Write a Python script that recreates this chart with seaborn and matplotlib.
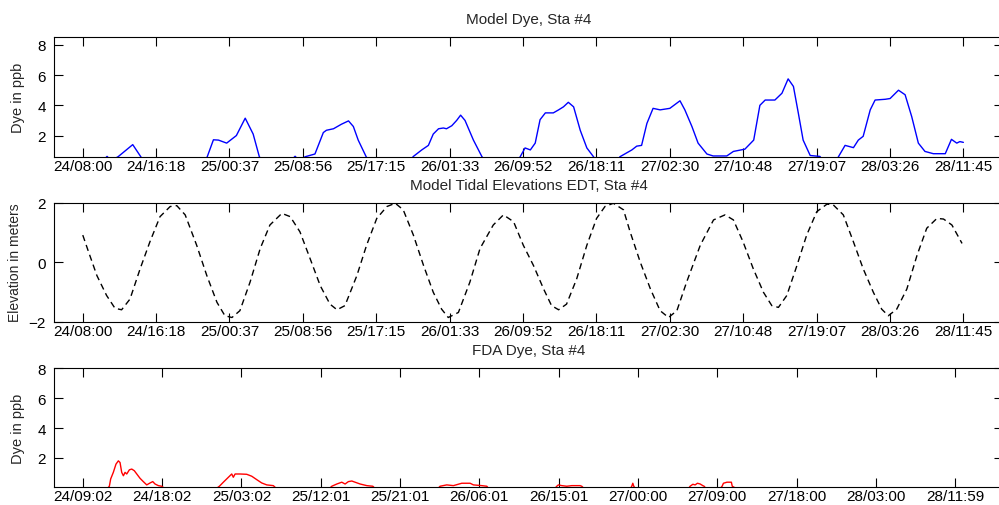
"""
Model dye, model tidal elevations and FDA dye at station #4
Three stacked time series, MATLAB-style axes, drawn with seaborn
"""
#******************************************************************************

import numpy as np
import matplotlib
matplotlib.use("Agg")
import matplotlib.pyplot as plt
import seaborn as sns
#******************************************************************************

#****************************************
# Data (hours counted from day 24, 00:00)
dye_hours = [8.0, 10.3, 10.75, 11.2, 12.0, 13.66, 14.57, 15.0,
             21.7, 22.1, 22.8, 23.37, 24.3, 25.4, 26.4, 27.3, 28.0, 28.6,
             31.6, 32.05, 32.5, 33.2, 34.3, 35.25, 35.6, 36.4, 37.3, 38.1,
             38.65, 39.2, 40.1, 40.6,
             45.0, 45.45, 46.4, 47.15, 47.7, 48.3, 48.85, 49.2, 49.8, 50.35,
             50.8, 51.3, 52.25, 53.2, 53.7,
             57.1, 57.55, 58.1, 58.7, 59.25, 59.8, 60.4, 61.3, 61.9, 62.45,
             63.0, 63.6, 64.35, 65.1, 65.85, 66.3,
             68.4, 68.85, 70.2, 70.75, 71.3, 71.9, 72.6, 73.4, 74.5, 75.65,
             76.2, 77.0, 77.7, 78.7, 79.4, 80.95, 81.7, 83.0,
             84.0, 84.7, 85.3, 86.4, 87.2, 87.9, 88.5, 89.05, 89.6, 90.4,
             91.5, 92.0,
             93.2, 93.6, 94.35, 95.3, 95.85, 96.4, 97.2, 97.75, 98.9, 99.45,
             100.4, 101.15, 101.9, 102.65, 103.4, 104.35, 105.7, 106.4,
             107.0, 107.35, 107.75]
dye_ppb = [0.2, 0.35, 0.62, 0.35, 0.6, 1.4, 0.6, 0.2,
           0.2, 0.6, 1.72, 1.7, 1.5, 2.0, 3.15, 2.1, 0.6, 0.2,
           0.35, 0.63, 0.35, 0.6, 0.78, 2.2, 2.35, 2.45, 2.75, 2.97,
           2.6, 1.7, 0.6, 0.2,
           0.3, 0.62, 1.05, 1.35, 2.1, 2.45, 2.5, 2.45, 2.65, 3.0,
           3.35, 3.0, 1.7, 0.62, 0.2,
           0.2, 0.6, 1.18, 1.05, 1.5, 3.05, 3.5, 3.5, 3.7, 3.9,
           4.2, 3.9, 2.35, 1.18, 0.6, 0.2,
           0.2, 0.6, 1.05, 1.3, 1.35, 2.8, 3.8, 3.7, 3.8, 4.3,
           3.7, 2.6, 1.5, 0.78, 0.65, 0.65, 0.95, 1.1,
           1.7, 4.0, 4.35, 4.35, 4.8, 5.75, 5.25, 3.5, 1.7, 0.68,
           0.62, 0.2,
           0.2, 0.6, 1.35, 1.2, 1.7, 1.95, 3.7, 4.35, 4.4, 4.45,
           5.0, 4.7, 3.25, 1.5, 0.95, 0.8, 0.8, 1.75,
           1.5, 1.6, 1.55]

tide_hours = [8.0, 8.65, 9.6, 10.7, 11.65, 12.4, 13.35, 14.5, 15.6, 16.75,
              17.9, 18.65, 19.6, 20.9, 22.05, 23.2, 24.1, 24.9, 25.8, 26.95,
              28.1, 29.2, 30.55, 31.5, 32.6, 33.75, 34.9, 36.0, 36.8, 37.7,
              39.05, 40.15, 41.3, 42.45, 43.4, 44.3, 45.45, 46.6, 47.7, 48.65,
              49.4, 50.55, 51.85, 53.0, 54.5, 55.65, 56.8, 57.9, 59.05, 60.2,
              61.1, 61.9, 62.8, 63.95, 65.1, 66.2, 67.15, 68.1, 69.25, 70.0,
              71.15, 72.3, 73.4, 74.35, 75.3, 76.4, 77.95, 79.45, 80.75, 81.7,
              82.8, 83.95, 85.1, 86.05, 86.8, 87.75, 88.9, 90.0, 91.15, 92.3,
              93.0, 94.15, 95.3, 96.4, 97.55, 98.5, 99.25, 100.2, 101.35,
              102.5, 103.6, 104.75, 105.5, 106.45, 107.6]
tide_m = [0.91, 0.35, -0.45, -1.12, -1.55, -1.6, -1.24, -0.22, 0.68, 1.53,
          1.87, 1.9, 1.59, 0.57, -0.45, -1.35, -1.8, -1.86, -1.63, -0.67,
          0.46, 1.25, 1.64, 1.53, 1.02, 0.12, -0.79, -1.41, -1.6, -1.46,
          -0.45, 0.57, 1.47, 1.87, 1.98, 1.76, 0.91, -0.11, -1.01, -1.58,
          -1.86, -1.69, -0.67, 0.46, 1.25, 1.59, 1.36, 0.57, -0.11, -0.9,
          -1.46, -1.6, -1.41, -0.56, 0.57, 1.47, 1.87, 1.98, 1.76, 1.02,
          0.0, -0.9, -1.63, -1.86, -1.63, -0.67, 0.57, 1.42, 1.59, 1.42,
          0.68, -0.22, -1.01, -1.46, -1.52, -1.12, -0.11, 0.91, 1.7, 1.95,
          1.93, 1.59, 0.68, -0.22, -1.01, -1.58, -1.8, -1.58, -0.9,
          0.23, 1.14, 1.47, 1.45, 1.25, 0.63]

fda_hours = [9.03, 11.9, 12.05, 12.2, 12.5, 12.8, 13.07, 13.26, 13.45, 13.64,
             13.83, 14.02, 14.32, 14.59, 14.88, 15.16, 15.53, 15.9, 16.29,
             16.67, 16.97, 17.23, 17.61, 17.99, 18.2,
             24.3, 24.53, 24.98, 25.55, 25.93, 26.11, 26.31, 26.87, 27.63,
             28.2, 28.77, 29.33, 29.9, 30.65, 30.9,
             37.1, 37.28, 37.85, 38.41, 38.79, 39.16, 39.55, 39.92, 40.49,
             41.25, 41.93, 42.1,
             49.4, 49.56, 50.32, 51.07, 52.02, 52.97, 53.34, 54.29, 54.86, 55.0,
             62.65, 62.8, 62.98, 63.37, 63.93, 64.5, 65.44, 65.63, 65.8,
             71.2, 71.3, 71.42, 71.53, 71.65,
             77.8, 77.92, 78.23, 78.49, 78.75, 79.06, 79.36, 79.51, 79.65,
             81.4, 81.55, 81.7, 82.1, 82.6, 82.7, 83.0]
fda_ppb = [0.0, 0.0, 0.1, 0.59, 1.03, 1.58, 1.8, 1.69, 1.03, 0.8,
           1.03, 0.92, 1.2, 1.25, 1.14, 0.92, 0.63, 0.41, 0.19,
           0.32, 0.41, 0.25, 0.14, 0.1, 0.0,
           0.0, 0.1, 0.37, 0.7, 0.92, 0.7, 0.92, 0.92, 0.9,
           0.77, 0.54, 0.32, 0.19, 0.14, 0.0,
           0.0, 0.1, 0.25, 0.37, 0.25, 0.41, 0.45, 0.37, 0.25,
           0.14, 0.1, 0.0,
           0.0, 0.1, 0.19, 0.14, 0.3, 0.3, 0.19, 0.14, 0.1, 0.0,
           0.0, 0.1, 0.19, 0.14, 0.1, 0.14, 0.14, 0.1, 0.0,
           0.0, 0.1, 0.3, 0.1, 0.0,
           0.0, 0.1, 0.23, 0.19, 0.3, 0.25, 0.14, 0.1, 0.0,
           0.0, 0.1, 0.3, 0.37, 0.37, 0.1, 0.0]

model_ticklabels = ["24/08:00", "24/16:18", "25/00:37", "25/08:56",
                    "25/17:15", "26/01:33", "26/09:52", "26/18:11",
                    "27/02:30", "27/10:48", "27/19:07", "28/03:26",
                    "28/11:45"]
fda_ticklabels = ["24/09:02", "24/18:02", "25/03:02", "25/12:01",
                  "25/21:01", "26/06:01", "26/15:01", "27/00:00",
                  "27/09:00", "27/18:00", "28/03:00", "28/11:59"]

titles = ["Model Dye, Sta #4", "Model Tidal Elevations EDT, Sta #4",
          "FDA Dye, Sta #4"]
ylabels = ["Dye in ppb", "Elevation in meters", "Dye in ppb"]


def label_hours(lab):
    # "dd/hh:mm" -> hours since day 24, 00:00
    day, hm = lab.split("/")
    hh, mm = hm.split(":")
    return (int(day) - 24) * 24 + int(hh) + int(mm) / 60.0


#****************************************
# Figure set-up
sns.set_theme(style="ticks")
plt.rcParams['font.family'] = ['Liberation Sans', 'DejaVu Sans']
plt.rcParams['axes.edgecolor'] = 'black'
plt.rcParams['axes.linewidth'] = 0.8

fig = plt.figure(figsize=(9.99, 5.06), dpi=100)
ax1 = fig.add_axes([0.0544, 0.6883, 0.9497, 0.2360])
ax2 = fig.add_axes([0.0544, 0.3623, 0.9497, 0.2352])
ax3 = fig.add_axes([0.0544, 0.0362, 0.9497, 0.2340])

sns.lineplot(x=dye_hours, y=dye_ppb, ax=ax1, color=(0, 0, 1),
             linewidth=1.0, estimator=None, sort=False)
sns.lineplot(x=tide_hours, y=tide_m, ax=ax2, color='black',
             linewidth=1.0, linestyle=(0, (4.5, 3)), estimator=None, sort=False)
sns.lineplot(x=fda_hours, y=fda_ppb, ax=ax3, color=(1, 0, 0),
             linewidth=1.0, estimator=None, sort=False)

#****************************************
# Axes limits, ticks and labels
ax1.set_xlim(4.78, 112.25)
ax2.set_xlim(4.78, 112.25)
ax3.set_xlim(5.81, 113.42)
ax1.set_ylim(0.6, 8.5)
ax2.set_ylim(-2, 2)
ax3.set_ylim(0.07, 8)

for ax, labs in [(ax1, model_ticklabels), (ax2, model_ticklabels),
                 (ax3, fda_ticklabels)]:
    ax.set_xticks([label_hours(l) for l in labs])
    ax.set_xticklabels(labs)

ax1.set_yticks([2, 4, 6, 8])
ax2.set_yticks([-2, 0, 2])
ax3.set_yticks([2, 4, 6, 8])

for ax, ttl, ylab, ylx, yfs in zip([ax1, ax2, ax3], titles, ylabels,
                                   [-0.031, -0.034, -0.031],
                                   [10.5, 10, 10.5]):
    ax.set_title(ttl, fontsize=11, pad=10)
    ax.set_ylabel(ylab, fontsize=yfs)
    ax.yaxis.set_label_coords(ylx, 0.5)
    ax.set_xlabel("")
    ax.tick_params(axis='both', direction='in', length=6.5, width=0.8,
                   top=True, right=True, labelsize=11, colors='black')
    ax.tick_params(axis='x', pad=2)
    ax.tick_params(axis='y', pad=6)
    for sp in ax.spines.values():
        sp.set_visible(True)
        sp.set_color('black')
    ax.grid(False)

fig.savefig('out.png', dpi=100)
